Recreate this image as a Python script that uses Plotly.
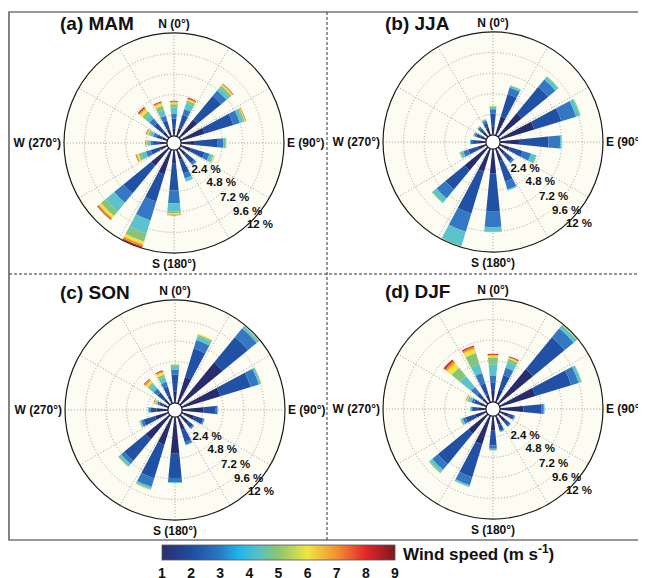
import plotly.graph_objects as go

# ---------------- data ----------------
directions = ["N", "NNE", "NE", "ENE", "E", "ESE", "SE", "SSE",
              "S", "SSW", "SW", "WSW", "W", "WNW", "NW", "NNW"]
dir_deg = [0, 22.5, 45, 67.5, 90, 112.5, 135, 157.5,
           180, 202.5, 225, 247.5, 270, 292.5, 315, 337.5]
speed_bins = ["1-2", "2-3", "3-4", "4-5", "5-6", "6-7", "7-8", "8-9"]
bin_colors = ["#262c6e", "#2151a5", "#3478c4", "#5cc3cc",
              "#88c37a", "#f1e43e", "#f0922e", "#d8282a"]

# frequency (%) per direction (rows) and speed bin (columns)
mam = [
    [0.9, 1.1, 0.6, 0.7, 0.4, 0.2, 0.1, 0.1],
    [1.0, 1.6, 0.7, 0.7, 0.35, 0.15, 0.1, 0.1],
    [2.7, 3.6, 0.8, 0.45, 0.3, 0.15, 0.1, 0.05],
    [2.9, 3.5, 0.8, 0.4, 0.2, 0.08, 0.05, 0.04],
    [1.6, 2.6, 0.75, 0.2, 0.1, 0.05, 0.0, 0.0],
    [1.2, 1.7, 0.6, 0.35, 0.15, 0.1, 0.05, 0.0],
    [1.0, 1.2, 0.3, 0.1, 0.0, 0.0, 0.0, 0.0],
    [1.2, 1.7, 0.6, 0.35, 0.05, 0.0, 0.0, 0.0],
    [1.6, 3.1, 1.5, 1.0, 0.2, 0.12, 0.06, 0.04],
    [3.0, 3.3, 2.3, 1.6, 1.0, 0.35, 0.25, 0.15],
    [2.6, 4.2, 1.4, 1.3, 0.7, 0.3, 0.2, 0.1],
    [0.9, 1.1, 0.6, 0.6, 0.3, 0.2, 0.1, 0.05],
    [0.8, 0.8, 0.3, 0.3, 0.1, 0.1, 0.05, 0.05],
    [0.6, 0.7, 0.4, 0.4, 0.2, 0.15, 0.1, 0.05],
    [0.9, 1.3, 0.7, 0.6, 0.45, 0.35, 0.2, 0.15],
    [0.8, 1.1, 0.6, 0.7, 0.5, 0.3, 0.15, 0.1],
]
jja = [
    [1.0, 1.5, 0.5, 0.25, 0.1, 0.05, 0.0, 0.0],
    [2.3, 2.7, 0.8, 0.25, 0.05, 0.0, 0.0, 0.0],
    [3.5, 4.0, 1.1, 0.4, 0.1, 0.0, 0.0, 0.0],
    [4.2, 3.3, 1.8, 0.45, 0.1, 0.0, 0.0, 0.0],
    [2.2, 3.45, 1.35, 0.15, 0.05, 0.0, 0.0, 0.0],
    [1.2, 1.6, 1.0, 0.65, 0.05, 0.0, 0.0, 0.0],
    [1.0, 1.1, 0.25, 0.05, 0.0, 0.0, 0.0, 0.0],
    [1.5, 2.5, 0.95, 0.15, 0.0, 0.0, 0.0, 0.0],
    [2.85, 4.45, 1.8, 0.55, 0.05, 0.0, 0.0, 0.0],
    [2.8, 5.1, 2.2, 1.75, 0.1, 0.05, 0.0, 0.0],
    [3.45, 2.9, 1.35, 0.6, 0.1, 0.0, 0.0, 0.0],
    [1.0, 1.2, 0.6, 0.35, 0.1, 0.05, 0.0, 0.0],
    [0.9, 0.6, 0.25, 0.1, 0.0, 0.0, 0.0, 0.0],
    [0.7, 0.5, 0.25, 0.1, 0.05, 0.0, 0.0, 0.0],
    [0.7, 0.5, 0.25, 0.1, 0.05, 0.0, 0.0, 0.0],
    [0.9, 0.6, 0.3, 0.13, 0.05, 0.02, 0.0, 0.0],
]
son = [
    [1.35, 1.95, 0.55, 0.45, 0.15, 0.05, 0.0, 0.0],
    [3.2, 3.45, 1.05, 0.45, 0.2, 0.1, 0.0, 0.0],
    [6.35, 3.85, 1.3, 0.3, 0.1, 0.05, 0.0, 0.0],
    [4.7, 3.7, 1.0, 0.2, 0.1, 0.0, 0.0, 0.0],
    [2.5, 1.35, 0.25, 0.1, 0.0, 0.0, 0.0, 0.0],
    [1.5, 1.1, 0.15, 0.05, 0.0, 0.0, 0.0, 0.0],
    [1.2, 0.7, 0.15, 0.05, 0.0, 0.0, 0.0, 0.0],
    [1.6, 1.5, 0.3, 0.1, 0.0, 0.0, 0.0, 0.0],
    [4.2, 2.9, 0.5, 0.1, 0.0, 0.0, 0.0, 0.0],
    [3.4, 4.1, 1.05, 0.25, 0.1, 0.05, 0.0, 0.0],
    [3.6, 3.25, 0.45, 0.35, 0.1, 0.05, 0.0, 0.0],
    [1.6, 1.4, 0.3, 0.15, 0.05, 0.03, 0.02, 0.0],
    [1.3, 0.7, 0.2, 0.1, 0.0, 0.0, 0.0, 0.0],
    [0.6, 0.5, 0.25, 0.15, 0.1, 0.08, 0.07, 0.05],
    [0.8, 1.0, 0.6, 0.6, 0.3, 0.3, 0.2, 0.1],
    [0.9, 1.1, 0.6, 0.6, 0.3, 0.3, 0.1, 0.1],
]
djf = [
    [1.35, 0.95, 0.8, 1.3, 0.8, 0.2, 0.1, 0.1],
    [1.5, 1.8, 0.9, 0.7, 0.4, 0.1, 0.1, 0.1],
    [5.2, 4.8, 1.35, 0.45, 0.1, 0.05, 0.05, 0.0],
    [4.35, 4.35, 0.9, 0.35, 0.05, 0.0, 0.0, 0.0],
    [2.7, 2.1, 0.3, 0.1, 0.0, 0.0, 0.0, 0.0],
    [1.1, 0.6, 0.15, 0.05, 0.0, 0.0, 0.0, 0.0],
    [1.1, 0.6, 0.15, 0.05, 0.0, 0.0, 0.0, 0.0],
    [1.1, 0.7, 0.15, 0.05, 0.0, 0.0, 0.0, 0.0],
    [1.7, 1.7, 0.4, 0.15, 0.05, 0.0, 0.0, 0.0],
    [3.5, 4.0, 0.95, 0.2, 0.05, 0.0, 0.0, 0.0],
    [2.9, 4.6, 0.85, 0.35, 0.15, 0.0, 0.0, 0.0],
    [1.3, 1.2, 0.35, 0.2, 0.1, 0.0, 0.0, 0.0],
    [0.9, 0.6, 0.2, 0.1, 0.05, 0.0, 0.0, 0.0],
    [0.8, 0.7, 0.3, 0.3, 0.2, 0.1, 0.1, 0.0],
    [0.8, 0.8, 0.9, 1.65, 1.25, 0.7, 0.3, 0.25],
    [0.9, 1.4, 1.25, 1.1, 1.35, 0.5, 0.25, 0.15],
]

season_titles = ["(a) MAM", "(b) JJA", "(c) SON", "(d) DJF"]
seasons = [mam, jja, son, djf]

radial_ticks = [2.4, 4.8, 7.2, 9.6, 12]
radial_labels = ["2.4 %", "4.8 %", "7.2 %", "9.6 %", "12 %"]
compass_vals = [0, 30, 60, 90, 120, 150, 180, 210, 240, 270, 300, 330]
compass_text = ["N (0°)", " ", " ", "E (90°)", " ", " ", "S (180°)", " ", " ", "W (270°)", " ", " "]

cbar_ticks = [1, 2, 3, 4, 5, 6, 7, 8, 9]
cbar_title = "Wind speed (m s<sup>-1</sup>)"
cbar_scale = [[0.0, "#2b2e6e"], [0.125, "#1f4c9f"], [0.25, "#2a7ac5"],
              [0.33, "#1cb6ea"], [0.41, "#56c0c6"], [0.5, "#8ec56f"],
              [0.625, "#f0e442"], [0.75, "#f29231"], [0.875, "#e3262a"],
              [1.0, "#7a1b1f"]]

# ---------------- layout geometry ----------------
# the page puts the figure 8 px from the window's top-left corner,
# so the figure is sized to end exactly at the 646x578 window edge
WIN_W, WIN_H, OFF = 646, 578, 8
FW, FH = WIN_W - OFF, WIN_H - OFF


def px(x):
    return (x - OFF) / FW


def py(y):
    return 1 - (y - OFF) / FH


centers = [(174, 143), (493, 142), (175, 410), (493, 409)]
R = 110
FONT = "Liberation Sans, Arial, sans-serif"
GRID = "#a0a0a0"

# placement of the percentage labels along the SE direction
label_r = [2.9, 5.2, 7.5, 9.75, 12]
label_theta = [147, 141, 140, 139.5, 138.5]

fig = go.Figure()
subplots = ["polar", "polar2", "polar3", "polar4"]

for data, sp in zip(seasons, subplots):
    for b in range(len(speed_bins)):
        fig.add_trace(go.Barpolar(
            r=[row[b] for row in data], theta=dir_deg, width=11.25,
            marker=dict(color=bin_colors[b], line=dict(width=0)),
            name=speed_bins[b], subplot=sp, showlegend=False,
            hoverinfo="skip"))
    fig.add_trace(go.Scatterpolar(
        r=label_r, theta=label_theta,
        mode="text", text=radial_labels, textposition="middle right",
        textfont=dict(family=FONT, size=11.5, color="#111", weight="bold"),
        cliponaxis=False, subplot=sp, showlegend=False, hoverinfo="skip"))

# invisible trace carrying the colour bar
fig.add_trace(go.Scatterpolar(
    r=[0], theta=[0], mode="markers", subplot="polar",
    marker=dict(size=1, opacity=0, color=[1], cmin=1, cmax=9,
                colorscale=cbar_scale, showscale=True,
                colorbar=dict(orientation="h", x=px(162), xanchor="left",
                              len=233, lenmode="pixels",
                              y=py(545), yanchor="top",
                              thickness=15, thicknessmode="pixels",
                              xpad=0, ypad=0,
                              tickvals=cbar_ticks, ticks="", ticklen=0,
                              tickfont=dict(family=FONT, size=14, color="#111",
                                            weight="bold"),
                              outlinewidth=0.8, outlinecolor="#555")),
    showlegend=False, hoverinfo="skip"))

for sp, (cx, cy) in zip(subplots, centers):
    fig.update_layout(**{sp: dict(
        domain=dict(x=[px(cx - R), px(cx + R)],
                    y=[py(cy + R), py(cy - R)]),
        bgcolor="#fcfcf2",
        hole=0.065,
        barmode="stack",
        radialaxis=dict(range=[0, 12], tickvals=radial_ticks,
                        showticklabels=False, ticks="", showline=False,
                        showgrid=True, gridcolor=GRID, griddash="1px,2px",
                        gridwidth=1, layer="above traces"),
        angularaxis=dict(rotation=90, direction="clockwise",
                         tickmode="array", tickvals=compass_vals,
                         ticktext=compass_text, ticks="",
                         tickfont=dict(family=FONT, size=12, color="#111",
                                       weight="bold"),
                         showline=True, linecolor="#1a1a1a", linewidth=1.2,
                         showgrid=True, gridcolor=GRID, griddash="1px,2px",
                         gridwidth=1, layer="above traces"),
    )})

title_pos = [(58, 24), (383, 24), (58, 292), (383, 291)]
annotations = []
for t, (x, y) in zip(season_titles, title_pos):
    annotations.append(dict(text=t, x=px(x), y=py(y), xref="paper",
                            yref="paper", xanchor="left", yanchor="middle",
                            showarrow=False,
                            font=dict(family=FONT, size=19, color="#111",
                                      weight="bold")))
annotations.append(dict(text=cbar_title, x=px(401), y=py(553),
                        xref="paper", yref="paper", xanchor="left",
                        yanchor="middle", showarrow=False,
                        font=dict(family=FONT, size=17, color="#111",
                                  weight="bold")))

shapes = [
    dict(type="rect", xref="paper", yref="paper", x0=px(9), x1=px(641),
         y0=py(540), y1=py(12), line=dict(color="#333", width=1.2)),
    dict(type="line", xref="paper", yref="paper", x0=px(327), x1=px(327),
         y0=py(540), y1=py(12),
         line=dict(color="#333", width=1, dash="3px,2px")),
    dict(type="line", xref="paper", yref="paper", x0=px(9), x1=px(641),
         y0=py(274), y1=py(274),
         line=dict(color="#333", width=1, dash="3px,2px")),
]

fig.update_layout(width=FW, height=FH,
                  margin=dict(l=0, r=0, t=0, b=0, autoexpand=False),
                  paper_bgcolor="white", showlegend=False,
                  annotations=annotations, shapes=shapes,
                  font=dict(family=FONT))

fig.write_html("out.html")
